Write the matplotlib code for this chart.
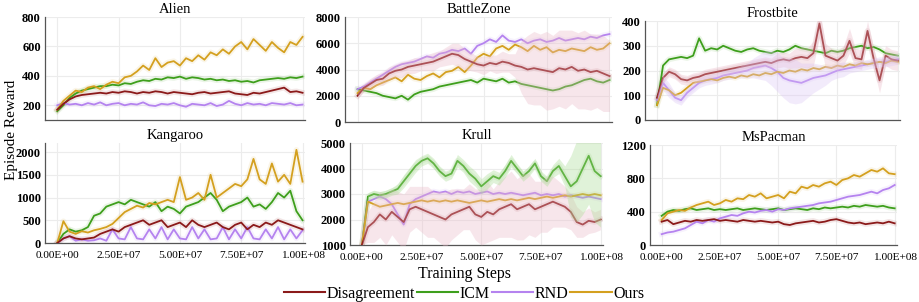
import numpy as np
import matplotlib
matplotlib.use("Agg")
import matplotlib.pyplot as plt
from matplotlib.ticker import FuncFormatter, FixedLocator
from matplotlib.lines import Line2D

# ---------------- data ----------------
methods = ["Disagreement", "ICM", "RND", "Ours"]
colors = {"Disagreement": "#8b1a1a", "ICM": "#3e9f1c", "RND": "#b583ef", "Ours": "#d4a01f"}
x_ticks = [0, 2.5e7, 5e7, 7.5e7, 1e8]

alien_dis = [170,210,240,260,270,275,280,285,280,290,285,295,290,280,290,285,295,290,280,290,285,280,275,285,290,280,285,290,295,280,275,270,285,280,290,300,310,320,290,295,285]
alien_icm = [160,200,250,280,300,310,320,330,330,340,335,350,345,360,370,365,380,375,390,385,395,380,390,385,375,380,370,375,365,370,360,365,355,370,375,380,385,380,390,385,395]
alien_rnd = [200,215,205,210,200,215,205,220,200,210,215,200,210,205,220,200,195,210,205,215,200,190,210,205,200,215,195,205,230,210,200,215,205,210,200,215,210,205,215,200,205]
alien_ours = [170,230,265,300,290,320,330,310,340,360,350,390,400,430,470,440,520,460,490,500,470,520,500,540,510,560,540,580,550,600,630,580,650,610,570,630,590,560,630,610,665]

bz_dis = [2000,2600,2900,3200,3300,3700,3900,4000,4200,4300,4400,4500,4600,4800,5000,5200,5100,4800,4600,4400,4300,4500,4400,4600,4500,4300,4200,4000,4100,4000,3900,3800,4100,4000,4200,3900,4000,3800,3900,3700,3500]
bz_icm = [2500,2400,2300,2200,2000,1900,1800,2000,1700,2100,2300,2400,2500,2700,2800,2900,3000,3100,3200,3000,3300,3200,3100,3300,3000,3100,2900,2800,2700,2600,2500,2400,2500,2700,2800,3000,3200,3300,3100,3000,3200]
bz_rnd = [2500,2700,3000,3300,3600,3900,4200,4400,4500,4600,4800,5000,4900,5200,5300,5500,5400,5600,5200,5800,6000,6300,6100,6600,6200,6100,6300,6000,6200,6300,6100,6200,6400,6200,6300,6400,6300,6500,6400,6600,6700]
bz_ours = [2200,2600,2500,2800,3000,3200,3400,3100,3600,3300,3200,3500,3700,3400,3800,3900,4200,3800,4300,4900,5200,5000,5600,5800,5500,5900,5700,5400,5800,5500,5700,5300,5500,5400,5600,5500,5400,5700,5500,5600,6000]
bz_dis_sd = [200,300,400,400,500,500,500,600,500,600,500,600,700,600,700,800,900,800,700,600,700,600,700,800,700,900,2000,2600,2800,2700,3000,2800,2900,3000,2800,2900,3000,2900,2800,2900,2700]

fb_dis = [90,170,195,185,165,160,170,175,185,190,195,200,205,210,215,220,225,230,235,230,240,245,240,250,255,250,270,390,260,250,240,260,320,250,245,360,250,160,260,245,240]
fb_icm = [60,220,245,250,255,250,260,330,280,290,285,300,290,280,275,285,290,280,275,270,280,275,285,300,290,285,280,275,270,280,275,280,290,295,300,290,295,285,270,265,260]
fb_rnd = [80,150,120,90,80,110,130,150,160,165,170,180,185,190,195,200,210,215,220,210,195,170,160,155,150,160,170,175,180,190,200,205,210,215,220,225,230,235,235,240,245]
fb_ours = [60,130,120,100,110,130,150,155,160,165,160,170,175,170,180,175,185,180,190,185,195,190,200,195,205,200,210,205,215,210,220,215,225,220,230,225,230,235,230,240,235]
fb_rnd_sd = [10,30,30,20,20,20,20,20,20,20,20,20,20,20,25,30,40,50,60,70,80,80,90,90,80,70,60,50,40,30,30,30,20,20,20,20,20,20,20,20,20]
fb_dis_sd = [10,20,20,20,20,20,20,20,20,20,20,20,20,20,20,20,20,20,20,20,30,30,30,40,40,40,50,60,50,40,40,40,50,40,40,40,40,50,40,40,40]

kg_dis = [0,100,150,100,80,100,120,200,250,300,250,350,400,450,500,400,450,500,350,400,450,350,500,400,350,400,450,350,300,400,450,300,400,350,450,400,500,450,400,350,300]
kg_icm = [0,200,300,250,280,350,600,650,800,850,900,850,950,900,850,800,900,700,800,750,650,800,850,900,1000,1100,950,700,800,850,900,1000,800,850,750,900,1100,1000,1150,700,500]
kg_rnd = [0,100,150,50,80,50,60,100,50,300,100,80,350,100,80,300,100,350,80,300,100,80,350,100,300,80,100,350,80,300,100,350,100,80,300,100,350,80,300,100,280]
kg_ours = [0,480,250,200,260,230,280,310,350,420,550,680,750,820,780,880,850,900,950,900,1450,950,1000,1100,950,1500,1000,1100,1200,1300,1250,1400,1850,1400,1300,1750,1350,1500,1300,2050,1350]

kr_dis = [1000,1700,1900,2200,2000,2300,2100,1900,2400,2500,2400,2300,2200,2100,2000,2200,2300,2400,2500,2200,2100,2300,2200,2400,2500,2600,2400,2500,2600,2400,2500,2600,2700,2600,2500,2300,1900,1800,1950,1900,2000]
kr_icm = [1000,2900,3000,2950,3000,3100,3200,3500,3800,4100,4300,4400,4200,3900,3700,3800,4300,4100,3800,3600,3300,3500,3700,3600,3900,4300,4000,3700,3900,4200,3700,3500,3900,4100,3700,3300,3500,4000,4500,3900,3700]
kr_rnd = [1000,2700,2800,2900,2800,2600,2200,1800,2600,2800,2900,3000,3100,3050,3100,3000,3100,3050,3100,3000,3050,3100,3000,3050,3000,3050,3000,2950,3000,3050,2950,3000,2950,3000,2900,2950,2900,2850,2900,2850,2800]
kr_ours = [1000,2700,2600,2500,2550,2600,2650,2600,2650,2700,2750,2700,2750,2700,2750,2700,2750,2700,2650,2700,2750,2700,2750,2800,2750,2800,2750,2800,2850,2800,2850,2900,2850,2900,2950,2900,2950,3000,2950,3000,2950]
kr_dis_sd = [0,600,800,900,1000,900,1000,1100,900,800,900,1000,900,1000,1100,1000,900,800,900,1000,1100,1200,1000,1100,1200,1300,1200,1300,1200,1100,1000,1100,1000,900,800,700,600,500,500,400,400]
kr_icm_sd = [0,150,150,150,150,150,200,250,250,250,200,200,200,200,200,200,250,250,300,300,300,300,250,250,250,250,200,200,200,200,200,200,250,300,400,1200,1600,1800,1900,2000,2000]

mp_dis = [280,300,250,270,290,280,300,290,300,310,290,300,290,280,300,290,280,290,280,270,280,250,240,260,270,280,290,270,280,300,310,290,270,260,270,250,260,270,260,280,260]
mp_icm = [350,400,420,410,430,440,420,430,440,420,430,420,430,440,420,430,440,430,420,430,440,420,430,440,430,420,440,430,450,440,450,460,450,470,460,480,470,460,470,450,440]
mp_rnd = [130,150,160,180,200,240,280,260,300,280,320,340,360,350,380,400,390,410,420,400,430,420,440,450,460,470,480,500,510,520,540,560,580,590,600,620,640,620,660,680,720]
mp_ours = [300,380,400,420,410,450,480,500,520,480,500,540,520,560,550,600,580,620,560,580,600,560,640,620,700,680,720,700,740,760,720,780,800,840,820,860,900,880,920,860,850]

panels = [
    dict(title="Alien", series=[alien_dis, alien_icm, alien_rnd, alien_ours], bands={},
         ylim=(100, 800), yticks=[200, 400, 600, 800], rect=(45, 17, 305, 120), xlab=False),
    dict(title="BattleZone", series=[bz_dis, bz_icm, bz_rnd, bz_ours], bands={0: bz_dis_sd},
         ylim=(0, 8000), yticks=[0, 2000, 4000, 6000, 8000], rect=(345, 17, 612, 122), xlab=False),
    dict(title="Frostbite", series=[fb_dis, fb_icm, fb_rnd, fb_ours], bands={0: fb_dis_sd, 2: fb_rnd_sd},
         ylim=(0, 400), yticks=[0, 100, 200, 300, 400], rect=(645, 21, 900, 120), xlab=False),
    dict(title="Kangaroo", series=[kg_dis, kg_icm, kg_rnd, kg_ours], bands={},
         ylim=(0, 2200), yticks=[0, 500, 1000, 1500, 2000], rect=(45, 143, 305, 243), xlab=True),
    dict(title="Krull", series=[kr_dis, kr_icm, kr_rnd, kr_ours], bands={0: kr_dis_sd, 1: kr_icm_sd},
         ylim=(1000, 5000), yticks=[1000, 2000, 3000, 4000, 5000], rect=(350, 143, 603, 245), xlab=True),
    dict(title="MsPacman", series=[mp_dis, mp_icm, mp_rnd, mp_ours], bands={},
         ylim=(0, 1200), yticks=[0, 400, 800, 1200], rect=(650, 145, 897, 245), xlab=True),
]

# ---------------- figure ----------------
W, H = 920, 302
plt.rcParams['font.family'] = ['Liberation Serif', 'DejaVu Serif']
fig = plt.figure(figsize=(W / 100, H / 100), dpi=100)

fmt = FuncFormatter(lambda v, p: f"{v:.2E}")
band_fc = {"Disagreement": "#eab9c8", "ICM": "#a8dc92", "RND": "#dcc6f5", "Ours": "#f3dc9a"}

for pnl in panels:
    l, t, r, b = pnl["rect"]
    ax = fig.add_axes([l / W, 1 - b / H, (r - l) / W, (b - t) / H])
    for k in [1, 2, 3, 0]:
        vals = np.array(pnl["series"][k], dtype=float)
        xs = np.linspace(0, 1e8, len(vals))
        c = colors[methods[k]]
        ax.plot(xs, vals, color=c, lw=4.0, alpha=0.10, zorder=2, solid_joinstyle='round')
        ax.plot(xs, vals, color=c, lw=1.3, zorder=3)
    for k, sd in pnl["bands"].items():
        vals = np.array(pnl["series"][k], dtype=float)
        sd = np.array(sd, dtype=float)
        xs = np.linspace(0, 1e8, len(vals))
        ax.fill_between(xs, vals - sd, vals + sd, color=band_fc[methods[k]], alpha=0.35, lw=0, zorder=4)
    ax.set_xlim(-0.05e8, 1.01e8)
    ax.set_ylim(*pnl["ylim"])
    ax.xaxis.set_major_locator(FixedLocator(x_ticks))
    ax.yaxis.set_major_locator(FixedLocator(pnl["yticks"]))
    ax.xaxis.set_major_formatter(fmt)
    ax.grid(True, color="#ececec", lw=0.8, zorder=0)
    ax.set_axisbelow(True)
    for s in ["top", "right"]:
        ax.spines[s].set_visible(False)
    for s in ["left", "bottom"]:
        ax.spines[s].set_color("#555555")
        ax.spines[s].set_linewidth(0.9)
    ax.tick_params(axis="y", length=0, pad=3)
    ax.tick_params(axis="x", length=0, pad=6)
    for lab in ax.get_yticklabels():
        lab.set_fontsize(9)
        lab.set_fontweight("bold")
    if pnl["xlab"]:
        for lab in ax.get_xticklabels():
            lab.set_fontsize(8.2)
    else:
        ax.tick_params(axis="x", labelbottom=False)
    ax.set_title(pnl["title"], fontsize=10.5, pad=3)

fig.text(0.012, 1 - 130 / H, "Episode Reward", rotation=90, ha="center", va="center", fontsize=11)
fig.text(465 / W, 1 - 274 / H, "Training Steps", ha="center", va="center", fontsize=11.5)

handles = [Line2D([0], [0], color=colors[m], lw=1.5) for m in methods]
fig.legend(handles, methods, loc="center", bbox_to_anchor=(464 / W, 1 - 294 / H), ncol=4,
           frameon=False, fontsize=11.5, handlelength=2.6, handletextpad=0.1, columnspacing=0.1,
           borderaxespad=0)

fig.savefig("out.png", dpi=100)
